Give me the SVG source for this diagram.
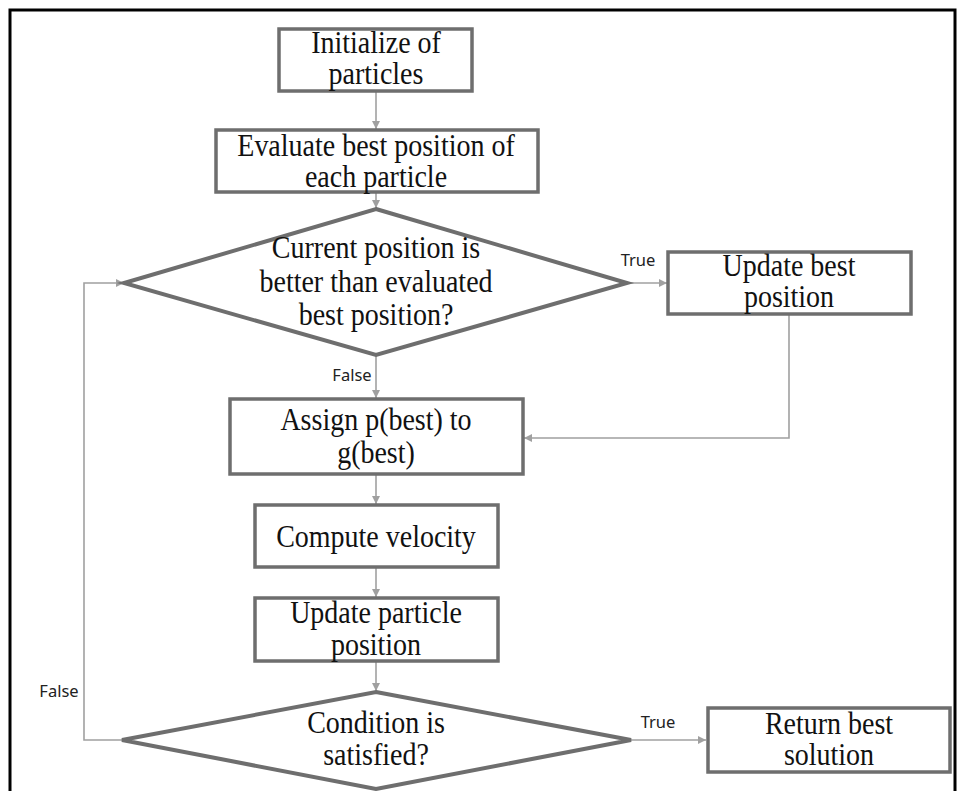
<svg xmlns="http://www.w3.org/2000/svg" width="960" height="791" viewBox="0 0 960 791">
  <defs>
    <marker id="arr" viewBox="0 0 10 10" refX="10" refY="5" markerWidth="8" markerHeight="8" markerUnits="userSpaceOnUse" orient="auto">
      <path d="M0,0 L10,5 L0,10 z" fill="#a0a0a0"/>
    </marker>
    <style>
      .box { fill: #ffffff; stroke: #6e6e6e; stroke-width: 3.5; }
      .dia { fill: #ffffff; stroke: #6e6e6e; stroke-width: 4; stroke-linejoin: miter; }
      .t { font-family: "Liberation Serif", "Times New Roman", serif; font-size: 32px; fill: #111111; text-anchor: middle; }
      .lbl { font-family: "Noto Sans", "Open Sans", sans-serif; font-size: 16.5px; fill: #222222; text-anchor: middle; }
      .con { fill: none; stroke: #a0a0a0; stroke-width: 1.6; }
      .arrow { marker-end: url(#arr); }
    </style>
  </defs>
  <rect x="0" y="0" width="960" height="791" fill="#ffffff"/>
  <rect x="10" y="10" width="945" height="800" fill="none" stroke="#000000" stroke-width="3"/>

  <g id="connectors">
    <line class="con arrow" x1="376" y1="91" x2="376" y2="129"/>
    <line class="con arrow" x1="376" y1="192" x2="376" y2="208"/>
    <line class="con arrow" x1="627" y1="283" x2="667" y2="283"/>
    <polyline class="con arrow" points="789,315 789,438 524,438"/>
    <line class="con arrow" x1="376" y1="355" x2="376" y2="398"/>
    <line class="con arrow" x1="376" y1="474" x2="376" y2="504"/>
    <line class="con arrow" x1="376" y1="568" x2="376" y2="597"/>
    <line class="con arrow" x1="376" y1="662" x2="376" y2="691"/>
    <line class="con arrow" x1="631" y1="740" x2="706" y2="740"/>
    <polyline class="con arrow" points="122,740 84,740 84,283 124,283"/>
    <text class="lbl" x="638" y="266">True</text>
    <text class="lbl" x="352" y="381">False</text>
    <text class="lbl" x="658" y="728">True</text>
    <text class="lbl" x="59" y="697">False</text>
  </g>

  <g id="init">
    <rect class="box" x="279" y="29" width="193" height="62"/>
    <text class="t" transform="translate(376,53) scale(0.875,1)">Initialize of</text>
    <text class="t" transform="translate(376,84) scale(0.875,1)">particles</text>
  </g>

  <g id="evaluate">
    <rect class="box" x="216" y="130" width="322" height="62"/>
    <text class="t" transform="translate(376,156) scale(0.875,1)">Evaluate best position of</text>
    <text class="t" transform="translate(376,187) scale(0.875,1)">each particle</text>
  </g>

  <g id="decision1">
    <polygon class="dia" points="376,209 627,283 376,355 124,283"/>
    <text class="t" transform="translate(376,258) scale(0.875,1)">Current position is</text>
    <text class="t" transform="translate(376,292) scale(0.875,1)">better than evaluated</text>
    <text class="t" transform="translate(376,325) scale(0.875,1)">best position?</text>
  </g>

  <g id="update-best">
    <rect class="box" x="668" y="252" width="243" height="62"/>
    <text class="t" transform="translate(789,276) scale(0.875,1)">Update best</text>
    <text class="t" transform="translate(789,307) scale(0.875,1)">position</text>
  </g>

  <g id="assign">
    <rect class="box" x="230" y="399" width="293" height="75"/>
    <text class="t" transform="translate(376,430) scale(0.875,1)">Assign p(best) to</text>
    <text class="t" transform="translate(376,463) scale(0.875,1)">g(best)</text>
  </g>

  <g id="velocity">
    <rect class="box" x="255" y="505" width="243" height="62"/>
    <text class="t" transform="translate(376,547) scale(0.875,1)">Compute velocity</text>
  </g>

  <g id="update-position">
    <rect class="box" x="255" y="598" width="243" height="63"/>
    <text class="t" transform="translate(376,623) scale(0.875,1)">Update particle</text>
    <text class="t" transform="translate(376,655) scale(0.875,1)">position</text>
  </g>

  <g id="decision2">
    <polygon class="dia" points="376,692 631,740 376,789 122,740"/>
    <text class="t" transform="translate(376,733) scale(0.875,1)">Condition is</text>
    <text class="t" transform="translate(376,765) scale(0.875,1)">satisfied?</text>
  </g>

  <g id="return">
    <rect class="box" x="708" y="708" width="242" height="64"/>
    <text class="t" transform="translate(829,734) scale(0.875,1)">Return best</text>
    <text class="t" transform="translate(829,765) scale(0.875,1)">solution</text>
  </g>
</svg>
